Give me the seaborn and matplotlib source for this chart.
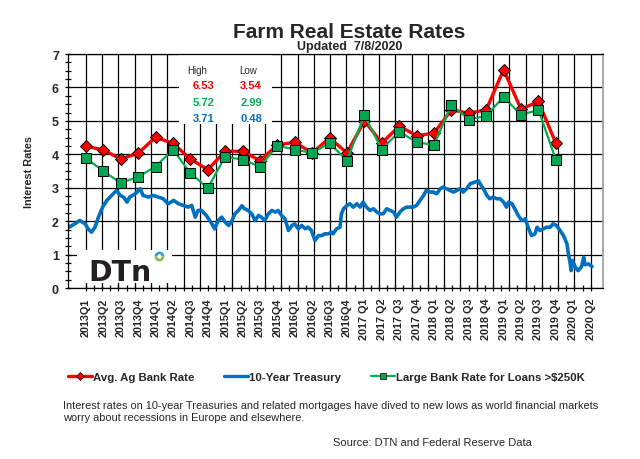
import numpy as np
import pandas as pd
import matplotlib
matplotlib.use("Agg")
import matplotlib.pyplot as plt
from matplotlib.lines import Line2D
from matplotlib.patches import Rectangle
import seaborn as sns

sns.set_theme(style="white")
plt.rcParams['font.family'] = ['Liberation Sans', 'DejaVu Sans']

# quarterly labels on the x axis
quarters = ["2013Q1", "2013Q2", "2013Q3", "2013Q4", "2014Q1", "2014Q2", "2014Q3", "2014Q4",
            "2015Q1", "2015Q2", "2015Q3", "2015Q4", "2016Q1", "2016Q2", "2016Q3", "2016Q4",
            "2017 Q1", "2017 Q2", "2017 Q3", "2017 Q4", "2018 Q1", "2018 Q2", "2018 Q3", "2018 Q4",
            "2019 Q1", "2019 Q2", "2019 Q3", "2019 Q4", "2020 Q1", "2020 Q2"]

# survey rates, 2013Q1 .. 2019Q4
avg_ag_rate = [4.24, 4.13, 3.86, 4.03, 4.51, 4.33, 3.86, 3.54, 4.09, 4.09, 3.81, 4.28, 4.36, 4.04,
               4.49, 4.04, 5.00, 4.34, 4.84, 4.56, 4.63, 5.33, 5.23, 5.33, 6.53, 5.35, 5.58, 4.33]
large_bank_rate = [3.88, 3.50, 3.14, 3.33, 3.63, 4.14, 3.44, 2.99, 3.93, 3.84, 3.63, 4.26, 4.14, 4.04,
                   4.33, 3.81, 5.18, 4.14, 4.68, 4.36, 4.28, 5.48, 5.04, 5.15, 5.72, 5.18, 5.33, 3.84]

# 10-year treasury (decimal year, rate)
tsy_year = [2013.00, 2013.01, 2013.09, 2013.16, 2013.24, 2013.28, 2013.33, 2013.38, 2013.43, 2013.49,
            2013.55, 2013.62, 2013.69, 2013.74, 2013.79, 2013.84, 2013.88, 2013.96, 2014.03, 2014.07,
            2014.15, 2014.22, 2014.29, 2014.36, 2014.43, 2014.51, 2014.58, 2014.65, 2014.72, 2014.77,
            2014.82, 2014.86, 2014.91, 2014.98, 2015.06, 2015.10, 2015.15, 2015.20, 2015.25, 2015.30,
            2015.34, 2015.39, 2015.44, 2015.49, 2015.53, 2015.58, 2015.63, 2015.68, 2015.73, 2015.77,
            2015.82, 2015.87, 2015.92, 2015.97, 2016.01, 2016.06, 2016.11, 2016.16, 2016.21, 2016.25,
            2016.30, 2016.35, 2016.40, 2016.44, 2016.49, 2016.54, 2016.59, 2016.64, 2016.68, 2016.73,
            2016.78, 2016.80, 2016.85, 2016.90, 2016.92, 2016.95, 2017.00, 2017.04, 2017.09, 2017.14,
            2017.19, 2017.23, 2017.28, 2017.33, 2017.38, 2017.43, 2017.47, 2017.52, 2017.57, 2017.62,
            2017.67, 2017.71, 2017.76, 2017.81, 2017.86, 2017.91, 2017.95, 2018.00, 2018.05, 2018.10,
            2018.14, 2018.19, 2018.24, 2018.29, 2018.34, 2018.38, 2018.43, 2018.48, 2018.53, 2018.58,
            2018.62, 2018.67, 2018.72, 2018.77, 2018.84, 2018.89, 2018.91, 2018.96, 2019.01, 2019.05,
            2019.10, 2019.15, 2019.20, 2019.25, 2019.29, 2019.32, 2019.37, 2019.41, 2019.46, 2019.51,
            2019.56, 2019.61, 2019.65, 2019.70, 2019.73, 2019.77, 2019.82, 2019.87, 2019.92, 2019.96,
            2020.01, 2020.06, 2020.11, 2020.16, 2020.18, 2020.20, 2020.22, 2020.24, 2020.28, 2020.32,
            2020.37, 2020.40, 2020.42, 2020.47, 2020.52]
tsy_rate = [1.86, 1.82, 1.92, 2.02, 1.92, 1.77, 1.67, 1.82, 2.12, 2.42,
            2.62, 2.77, 2.92, 2.77, 2.72, 2.57, 2.72, 2.82, 2.97, 2.77,
            2.72, 2.77, 2.72, 2.67, 2.52, 2.62, 2.52, 2.47, 2.42, 2.47,
            2.12, 2.32, 2.32, 2.17, 1.92, 1.77, 2.02, 2.12, 1.97, 1.87,
            1.97, 2.22, 2.32, 2.46, 2.37, 2.32, 2.22, 2.02, 2.17, 2.12,
            2.02, 2.22, 2.32, 2.27, 2.32, 2.17, 2.07, 1.72, 1.87, 1.92,
            1.77, 1.87, 1.77, 1.82, 1.72, 1.42, 1.57, 1.57, 1.62, 1.62,
            1.67, 1.62, 1.77, 1.82, 2.22, 2.37, 2.47, 2.52, 2.42, 2.52,
            2.42, 2.57, 2.42, 2.32, 2.37, 2.27, 2.22, 2.22, 2.37, 2.32,
            2.27, 2.12, 2.27, 2.37, 2.42, 2.42, 2.42, 2.47, 2.62, 2.77,
            2.92, 2.87, 2.87, 2.82, 2.97, 3.02, 2.97, 2.92, 2.87, 2.92,
            2.97, 2.87, 2.97, 3.12, 3.17, 3.20, 3.12, 2.97, 2.77, 2.67,
            2.72, 2.67, 2.67, 2.57, 2.42, 2.57, 2.52, 2.37, 2.17, 2.02,
            2.07, 1.77, 1.57, 1.62, 1.82, 1.72, 1.77, 1.82, 1.82, 1.92,
            1.87, 1.72, 1.57, 1.32, 1.02, 0.82, 0.52, 0.82, 0.62, 0.52,
            0.64, 0.92, 0.70, 0.72, 0.64]

# high / low box (ag bank, large bank, treasury)
table_high = [6.53, 5.72, 3.71]
table_low = [3.54, 2.99, 0.48]

RED = "#FF0000"
GREEN = "#00B050"
BLUE = "#0070C0"

df_q = pd.DataFrame({"pos": np.arange(len(avg_ag_rate)),
                     "avg_ag": avg_ag_rate, "large": large_bank_rate})
df_t = pd.DataFrame({"pos": (np.array(tsy_year) - 2013) * 4 - 1, "rate": tsy_rate})

fig = plt.figure(figsize=(6.4, 4.6), dpi=100)
ax = fig.add_axes([68 / 640, 1 - 289 / 460, 535 / 640, 234 / 460])

sns.lineplot(data=df_q, x="pos", y="avg_ag", ax=ax, color=RED, lw=2.4, marker="D",
             markersize=6.5, markeredgecolor="black", markeredgewidth=0.7, zorder=3)
sns.lineplot(data=df_t, x="pos", y="rate", ax=ax, color=BLUE, lw=2.6, zorder=2)
sns.lineplot(data=df_q, x="pos", y="large", ax=ax, color=GREEN, lw=1.6, marker="s",
             markersize=6.5, markerfacecolor="#00A651", markeredgecolor="black",
             markeredgewidth=0.7, zorder=4)

ax.set_xlim(-1.03, 29.71)
ax.set_ylim(0, 7)

# grid: vertical lines do not line up with the quarter labels in the original
grid_x = np.linspace(0, 29, 32)
ax.set_xticks(grid_x)
ax.set_xticks((grid_x[:-1] + grid_x[1:]) / 2, minor=True)
ax.set_xticklabels([])
ax.set_yticks(range(8))
ax.set_yticks(np.arange(0, 7.01, 0.25), minor=True)
ax.set_yticklabels([str(v) for v in range(8)], fontweight="bold", fontsize=9)
ax.grid(True, which="major", color="black", lw=0.9)
ax.set_axisbelow(True)
ax.tick_params(which="both", direction="inout", length=5, width=0.9, color="black",
               bottom=True, left=True, pad=4)

for side in ["left", "bottom", "top"]:
    ax.spines[side].set_color("black")
    ax.spines[side].set_linewidth(0.9)
ax.spines["right"].set_color("#A0A0A0")

ax.set_xlabel("")
ax.set_ylabel("Interest Rates", fontweight="bold", fontsize=7.8, labelpad=13)

sec = ax.secondary_xaxis("bottom")
sec.set_xticks(range(len(quarters)))
sec.set_xticklabels(quarters, rotation=90, fontweight="bold", fontsize=7.8)
sec.tick_params(length=0, pad=7)
sec.spines["bottom"].set_visible(False)

# high / low box
ax.add_patch(Rectangle((0.207, 0.70), 0.174, 0.296, transform=ax.transAxes,
                       facecolor="white", edgecolor="none", zorder=1.5))
ax.text(0.241, 0.933, "High", transform=ax.transAxes, ha="center", va="center",
        fontsize=7, zorder=5)
ax.text(0.336, 0.933, "Low", transform=ax.transAxes, ha="center", va="center",
        fontsize=7, zorder=5)
for i, c in enumerate([RED, GREEN, BLUE]):
    yy = 0.868 - i * 0.0715
    ax.text(0.253, yy, f"{table_high[i]:.2f}", transform=ax.transAxes, ha="center",
            va="center", fontsize=8, fontweight="bold", color=c, zorder=5)
    ax.text(0.342, yy, f"{table_low[i]:.2f}", transform=ax.transAxes, ha="center",
            va="center", fontsize=8, fontweight="bold", color=c, zorder=5)

# DTN logo
ax.add_patch(Rectangle((0.017, 0.022), 0.178, 0.14, transform=ax.transAxes,
                       facecolor="white", edgecolor="none", zorder=1.5))
ax.text(0.039, 0.034, "DTn", transform=ax.transAxes, ha="left", va="baseline",
        fontsize=20.5, fontweight="bold", color="#231F20", family="DejaVu Sans", zorder=5)
ax.plot([0.170], [0.135], marker="o", ms=7, fillstyle="top", markerfacecolor="#2E9BD6",
        markerfacecoloralt="#7DC243", markeredgecolor="none", transform=ax.transAxes, zorder=5)
ax.plot([0.170], [0.135], marker="o", ms=3.2, color="white", markeredgecolor="none",
        transform=ax.transAxes, zorder=6)

fig.text(0.546, 0.930, "Farm Real Estate Rates", ha="center", va="center",
         fontsize=15, fontweight="bold")
fig.text(0.546, 0.898, "Updated  7/8/2020", ha="center", va="center",
         fontsize=9, fontweight="bold")

handles = [
    Line2D([], [], color=RED, lw=2.4, marker="D", ms=4, markeredgecolor="black", markeredgewidth=0.5),
    Line2D([], [], color=BLUE, lw=2.4),
    Line2D([], [], color=GREEN, lw=1.6, marker="s", ms=4, markerfacecolor="#00A651",
           markeredgecolor="black", markeredgewidth=0.5),
]
fig.legend(handles, ["Avg. Ag Bank Rate", "10-Year Treasury", "Large Bank Rate for Loans >$250K"],
           loc="center", bbox_to_anchor=(0.51, 0.178), ncol=3, frameon=False,
           prop={"weight": "bold", "size": 8.2}, handlelength=2.1, handletextpad=0.1,
           columnspacing=2.6)

fig.text(0.098, 0.104,
         "Interest rates on 10-year Treasuries and related mortgages have dived to new lows as world financial markets\n"
         "worry about recessions in Europe and elsewhere.",
         ha="left", va="center", fontsize=7.9, linespacing=1.3)
fig.text(0.52, 0.037, "Source: DTN and Federal Reserve Data", ha="left", va="center", fontsize=8)

fig.savefig("out.png", dpi=100, facecolor="white")
